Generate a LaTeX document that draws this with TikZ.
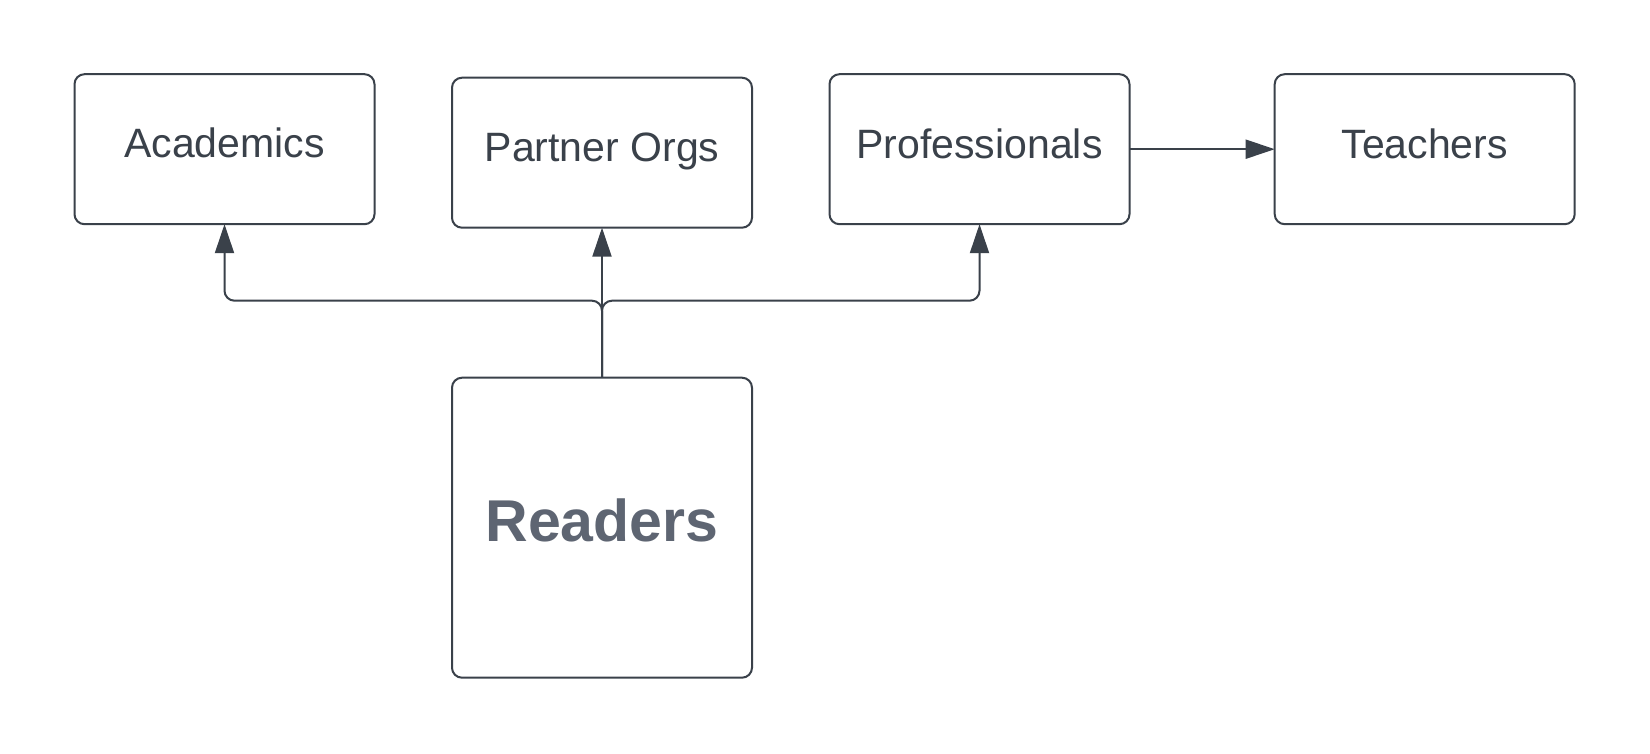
\documentclass[tikz,border=0pt]{standalone}
\usepackage{fontspec}
\setmainfont{Liberation Sans}
\usetikzlibrary{arrows.meta}
\definecolor{ln}{HTML}{3A414A}
\definecolor{rd}{HTML}{5E6572}
\begin{document}
\begin{tikzpicture}[x=1pt,y=-1pt,
  box/.style={draw=ln, line width=2pt, rounded corners=10pt, minimum width=300pt, minimum height=150pt, inner sep=0pt, outer sep=0pt},
  bigbox/.style={box, minimum height=300pt},
  lbl/.style={anchor=base, text=ln, font=\fontsize{41}{41}\selectfont, inner sep=0pt},
  biglbl/.style={anchor=base, text=rd, font=\fontsize{59}{59}\selectfont\bfseries, inner sep=0pt},
  conn/.style={draw=ln, line width=2pt, -{Triangle[length=29pt,width=19pt]}, rounded corners=10pt}]
\useasboundingbox[fill=white] (0,0) rectangle (1650,754);
\node[box] (aca) at (224.5,149.2) {};
\node[box] (par) at (602,152.7) {};
\node[box] (pro) at (979.5,149.2) {};
\node[box] (tea) at (1424.7,149.2) {};
\node[bigbox] (rea) at (602,527.7) {};
\node[lbl] (acat) at (224.5,158) {Academics};
\node[lbl] (part) at (602,161.7) {Partner Orgs};
\node[lbl] (prot) at (979.5,158.3) {Professionals};
\node[lbl] (teat) at (1424.7,158.3) {Teachers};
\node[biglbl] (reat) at (602,541) {Readers};
\draw[conn] (rea.north) -- (par.south);
\draw[conn] (rea.north) -- ++(0,-77) -| (aca.south);
\draw[conn] (rea.north) -- ++(0,-77) -| (pro.south);
\draw[conn] (pro.east) -- (tea.west);
\end{tikzpicture}
\end{document}
